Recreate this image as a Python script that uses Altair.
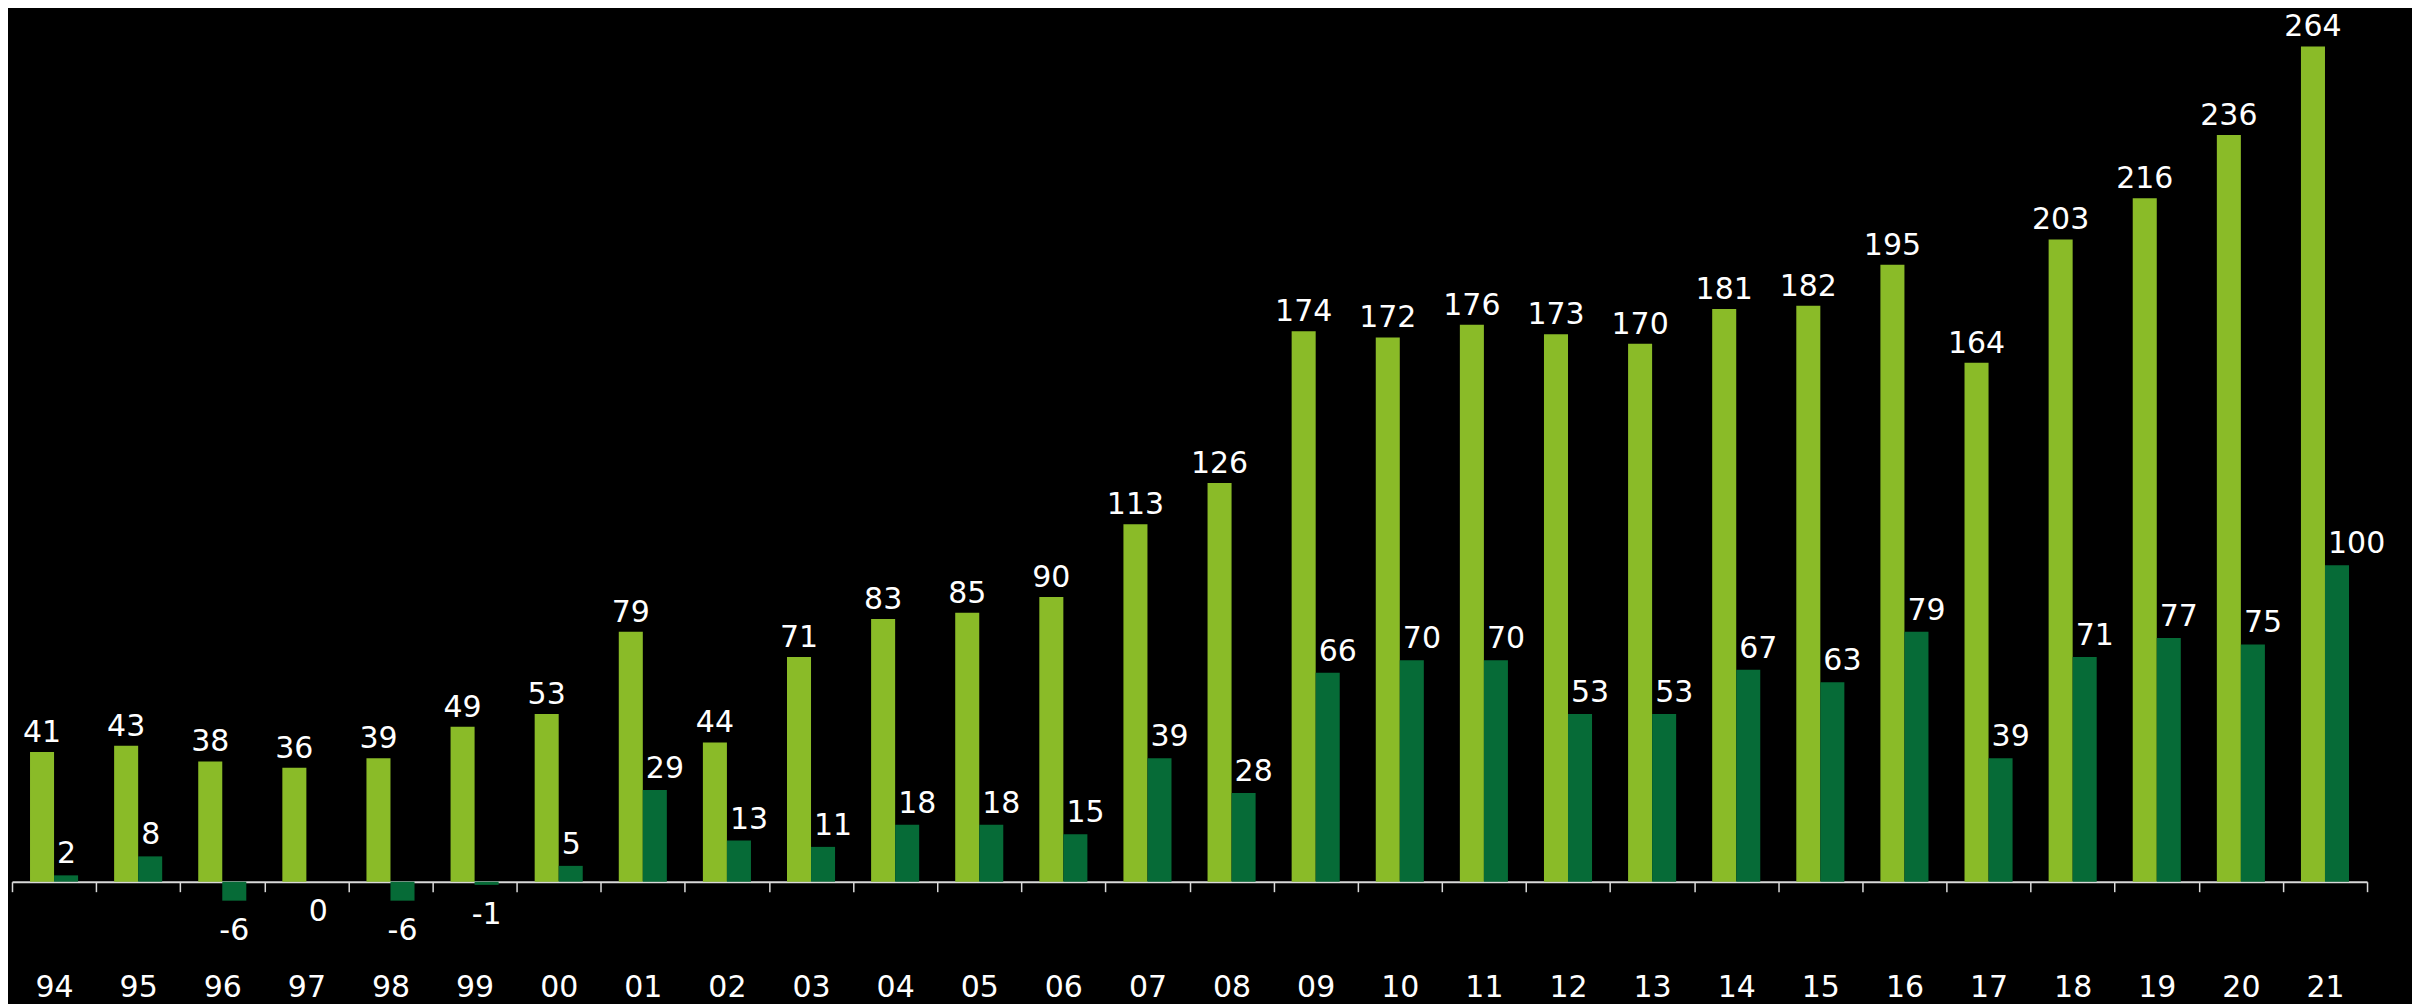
import altair as alt
import pandas as pd

years = ["94", "95", "96", "97", "98", "99", "00", "01", "02", "03", "04", "05", "06", "07",
         "08", "09", "10", "11", "12", "13", "14", "15", "16", "17", "18", "19", "20", "21"]
series_a = [41, 43, 38, 36, 39, 49, 53, 79, 44, 71, 83, 85, 90, 113,
            126, 174, 172, 176, 173, 170, 181, 182, 195, 164, 203, 216, 236, 264]
series_b = [2, 8, -6, 0, -6, -1, 5, 29, 13, 11, 18, 18, 15, 39,
            28, 66, 70, 70, 53, 53, 67, 63, 79, 39, 71, 77, 75, 100]

LIGHT = "#8ABB28"
DARK = "#066B37"
FONT = "DejaVu Sans"

rows = []
for y, a, b in zip(years, series_a, series_b):
    rows.append({"year": y, "series": "A", "value": a, "label": str(a)})
    rows.append({"year": y, "series": "B", "value": b, "label": str(b)})
df = pd.DataFrame(rows)

x_enc = alt.X(
    "year:N", sort=years, title=None,
    scale=alt.Scale(paddingInner=0, paddingOuter=0),
    axis=alt.Axis(labelAngle=0, tickBand="extent", domainColor="#D9D9D9", domainWidth=2,
                  tickColor="#D9D9D9", tickWidth=1.5, tickSize=10, labelColor="white",
                  labelFont=FONT, labelFontSize=30, labelBaseline="alphabetic",
                  labelPadding=105, grid=False),
)
xo_enc = alt.XOffset("series:N", sort=["A", "B"],
                     scale=alt.Scale(paddingInner=0, paddingOuter=0.75))
y_enc = alt.Y("value:Q", axis=None, scale=alt.Scale(domain=[0, 270], nice=False, zero=True))

base = alt.Chart(df).encode(x=x_enc, xOffset=xo_enc, y=y_enc)

bars = base.mark_bar().encode(
    color=alt.Color("series:N", scale=alt.Scale(domain=["A", "B"], range=[LIGHT, DARK]), legend=None)
)

txt_a = base.transform_filter(alt.datum.series == "A").mark_text(
    color="white", font=FONT, fontSize=30, align="center", baseline="alphabetic", dy=-10
).encode(text="label:N")

txt_b_pos = base.transform_filter((alt.datum.series == "B") & (alt.datum.value > 0)).mark_text(
    color="white", font=FONT, fontSize=30, align="left", baseline="alphabetic", dx=-9, dy=-12
).encode(text="label:N")

txt_b_neg = base.transform_filter((alt.datum.series == "B") & (alt.datum.value <= 0)).mark_text(
    color="white", font=FONT, fontSize=30, align="center", baseline="alphabetic", dy=39
).encode(text="label:N")

chart = alt.layer(bars, txt_a, txt_b_pos, txt_b_neg).properties(
    width=2357, height=855,
    background="black",
    autosize=alt.AutoSizeParams(type="none"),
    padding={"left": 4, "top": 19, "right": 45, "bottom": 124},
).configure_view(stroke=None)

chart.save("out.html", embed_options={"renderer": "svg", "actions": False})
